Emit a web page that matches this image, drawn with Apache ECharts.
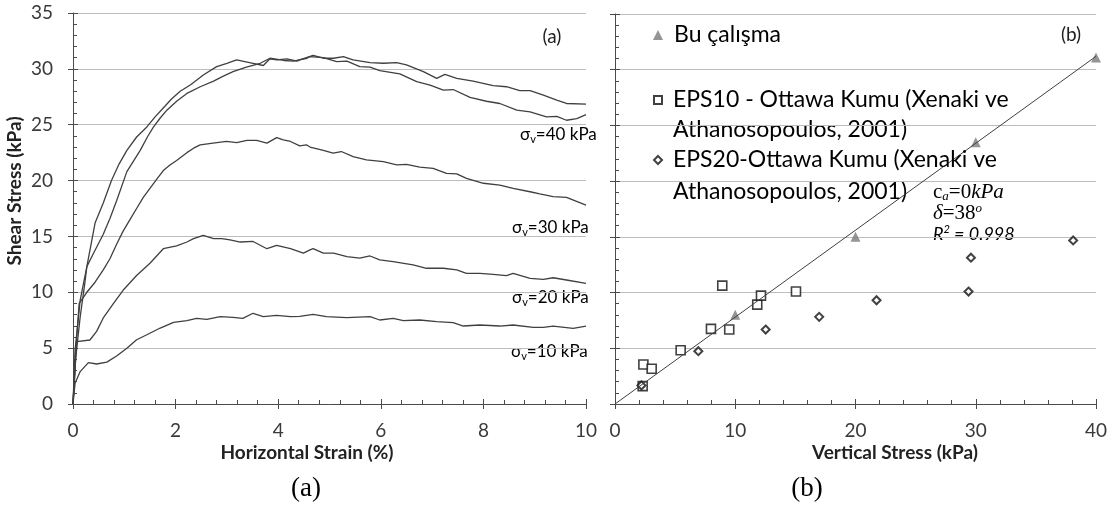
<!DOCTYPE html>
<html>
<head>
<meta charset="utf-8">
<script src="https://cdn.jsdelivr.net/npm/echarts/dist/echarts.min.js"></script>
<style>
  html, body { margin: 0; padding: 0; background: #ffffff; }
  #chart { width: 1114px; height: 511px; }
</style>
</head>
<body>
<div id="chart"></div>
<script>
// ---- (a) shear stress vs horizontal strain, one curve per normal stress ----
const curve10 = [[0,0],[0.04,1.85],[0.14,2.9],[0.3,3.7],[0.46,3.58],[0.66,3.75],[0.85,4.3],[1.05,5.0],[1.24,5.75],[1.44,6.2],[1.7,6.8],[1.96,7.3],[2.22,7.46],[2.41,7.67],[2.61,7.58],[2.87,7.82],[3.12,7.76],[3.31,7.67],[3.51,8.12],[3.71,7.82],[3.97,7.94],[4.24,7.82],[4.42,7.85],[4.68,8.03],[4.94,7.82],[5.34,7.73],[5.79,7.82],[5.98,7.52],[6.24,7.67],[6.44,7.46],[6.76,7.52],[7.09,7.37],[7.41,7.28],[7.61,6.98],[7.93,7.07],[8.32,6.98],[8.58,7.07],[8.97,6.86],[9.17,6.86],[9.36,6.98],[9.75,6.77],[10.0,6.98]];
const curve20 = [[0,0],[0.04,3.0],[0.07,5.58],[0.33,5.73],[0.46,6.5],[0.59,7.7],[0.79,9.0],[0.98,10.2],[1.24,11.5],[1.5,12.6],[1.76,13.9],[2.02,14.15],[2.22,14.5],[2.35,14.8],[2.54,15.1],[2.74,14.8],[2.9,14.8],[3.06,14.7],[3.26,14.5],[3.51,14.55],[3.78,13.9],[3.97,14.2],[4.24,13.9],[4.49,13.5],[4.62,13.8],[4.68,13.9],[4.88,13.5],[5.08,13.5],[5.34,13.2],[5.59,13.05],[5.79,13.25],[5.98,12.9],[6.24,12.75],[6.63,12.45],[6.89,12.15],[7.22,12.15],[7.48,12.0],[7.67,11.7],[7.93,11.7],[8.19,11.6],[8.45,11.5],[8.58,11.7],[8.91,11.25],[9.17,11.15],[9.36,11.3],[9.62,11.1],[10.0,10.8]];
const curve30 = [[0,0],[0.05,4.5],[0.12,9.0],[0.27,10.0],[0.43,10.9],[0.59,12.0],[0.72,13.0],[0.85,14.3],[0.98,15.5],[1.11,16.5],[1.24,17.5],[1.37,18.5],[1.5,19.3],[1.63,20.1],[1.76,20.9],[1.89,21.4],[2.02,21.8],[2.22,22.5],[2.35,22.9],[2.48,23.2],[2.73,23.35],[2.99,23.5],[3.19,23.4],[3.39,23.6],[3.58,23.6],[3.78,23.35],[3.97,23.85],[4.1,23.65],[4.24,23.5],[4.42,23.1],[4.55,23.2],[4.62,23.0],[4.88,22.7],[5.07,22.45],[5.23,22.6],[5.46,22.15],[5.72,21.85],[6.05,21.7],[6.31,21.4],[6.5,21.45],[6.76,21.2],[7.02,21.1],[7.28,20.65],[7.48,20.6],[7.67,20.2],[8.0,19.76],[8.32,19.6],[8.58,19.3],[8.91,19.0],[9.1,18.8],[9.36,18.56],[9.62,18.5],[10.0,17.8]];
const curve40a = [[0,0],[0.04,4.8],[0.14,9.3],[0.27,12.3],[0.43,16.2],[0.59,18.0],[0.75,20.0],[0.9,21.5],[1.05,22.7],[1.24,23.9],[1.44,24.8],[1.6,25.7],[1.76,26.5],[1.92,27.3],[2.09,28.0],[2.3,28.6],[2.54,29.45],[2.8,30.2],[3.0,30.5],[3.19,30.8],[3.35,30.65],[3.51,30.5],[3.71,30.3],[3.84,30.9],[3.97,30.8],[4.17,30.9],[4.37,30.7],[4.42,30.8],[4.68,31.2],[4.88,30.95],[5.08,30.95],[5.27,31.1],[5.46,30.8],[5.79,30.55],[6.05,30.5],[6.31,30.55],[6.5,30.35],[6.83,29.75],[7.09,29.15],[7.25,29.5],[7.48,29.15],[7.8,28.9],[8.19,28.5],[8.45,28.4],[8.71,28.05],[8.91,28.05],[9.17,27.65],[9.43,27.2],[9.62,26.9],[10.0,26.85]];
const curve40b = [[0,0],[0.05,4.0],[0.14,7.8],[0.23,10.8],[0.27,12.3],[0.4,13.5],[0.59,15.2],[0.72,16.6],[0.85,18.2],[1.05,20.8],[1.2,21.9],[1.31,22.7],[1.45,23.9],[1.57,24.8],[1.7,25.6],[1.83,26.3],[2.02,27.1],[2.22,27.8],[2.48,28.4],[2.74,28.9],[2.93,29.35],[3.12,29.75],[3.38,30.15],[3.65,30.5],[3.84,30.95],[4.11,30.75],[4.3,30.7],[4.56,30.95],[4.62,31.1],[4.88,31.0],[5.14,30.65],[5.34,30.7],[5.59,30.2],[5.79,30.15],[5.98,29.85],[6.37,29.55],[6.7,28.85],[6.96,28.55],[7.22,28.1],[7.41,28.15],[7.74,27.45],[8.06,27.1],[8.32,26.9],[8.65,26.3],[8.91,26.15],[9.23,25.7],[9.43,25.75],[9.62,25.4],[9.82,25.55],[10.0,25.9]];

// ---- (b) shear stress vs vertical stress ----
const buCalisma = [[10,8.0],[20,15.0],[30,23.5],[40,31.1]];
const eps10 = [[2.3,1.6],[2.36,3.55],[3.05,3.16],[5.46,4.83],[7.98,6.74],[9.5,6.68],[8.92,10.62],[11.83,8.92],[12.14,9.73],[15.05,10.09]];
const eps20 = [[2.2,1.67],[6.93,4.74],[12.53,6.68],[16.98,7.82],[21.75,9.31],[29.4,10.09],[29.6,13.13],[38.1,14.68]];
const fitLine = [[0,0],[40,31.2]];

// ---- text ----
const nameBu = 'Bu çalışma';
const lines10 = ['EPS10 - Ottawa Kumu (Xenaki ve', 'Athanosopoulos, 2001)'];
const lines20 = ['EPS20-Ottawa Kumu (Xenaki ve', 'Athanosopoulos, 2001)'];
const name10 = lines10.join(' ');
const name20 = lines20.join(' ');
const curveLabels = ['40', '30', '20', '10'];

const LINE = '#404040';
const GRID = '#bdbdbd';
const AXIS = '#4a4a4a';
const FONT = 'Lato';

function mainAxis(gridIndex, max, interval, showLabel) {
  return {
    type: 'value', gridIndex: gridIndex, min: 0, max: max, interval: interval,
    axisLine: { show: true, lineStyle: { color: AXIS, width: 1 } },
    axisTick: { show: true, inside: true, length: 5, lineStyle: { color: AXIS } },
    minorTick: { show: true, splitNumber: 5, length: 4, lineStyle: { color: AXIS } },
    axisLabel: { show: showLabel, margin: 17, fontFamily: FONT, fontSize: 19, color: '#3a3a3a' },
    splitLine: { show: false }
  };
}
function tickAxis(gridIndex, max, interval, position) {
  return {
    type: 'value', gridIndex: gridIndex, min: 0, max: max, interval: interval, position: position,
    axisLine: { show: false },
    axisTick: { show: true, inside: false, length: 5, lineStyle: { color: AXIS } },
    axisLabel: { show: false },
    splitLine: { show: false }
  };
}

const yLeft = mainAxis(0, 35, 5, true);
yLeft.axisLabel.margin = 20;
yLeft.splitLine = { show: true, lineStyle: { color: GRID, width: 1 } };
const yRight = mainAxis(1, 35, 5, false);
yRight.splitLine = { show: true, lineStyle: { color: GRID, width: 1 } };

function curveSeries(data) {
  return {
    type: 'line', xAxisIndex: 0, yAxisIndex: 0, data: data, symbol: 'none',
    lineStyle: { color: LINE, width: 1.3 }, silent: true, animation: false
  };
}

function sigmaLabel(value, x, y) {
  return {
    type: 'text', x: x, y: y,
    style: {
      text: '{s|σ}{v|v}{t|=' + value + ' kPa}',
      align: 'left',
      verticalAlign: 'middle',
      rich: {
        s: { fontFamily: FONT, fontSize: 17, color: '#222', lineHeight: 20 },
        v: { fontFamily: FONT, fontSize: 11, color: '#222', lineHeight: 12, verticalAlign: 'bottom' },
        t: { fontFamily: FONT, fontSize: 17, color: '#222', lineHeight: 20 }
      }
    }
  };
}

const legendBase = {
  orient: 'vertical', left: 653, padding: 0, selectedMode: false,
  itemWidth: 9, itemHeight: 9,
  textStyle: { fontFamily: FONT, fontSize: 23, color: '#000', lineHeight: 26, padding: [0, 0, 0, 6] }
};

const serifRich = {
  u: { fontFamily: 'Liberation Serif', fontSize: 21, color: '#222', lineHeight: 22 },
  i: { fontFamily: 'Liberation Serif', fontStyle: 'italic', fontSize: 21, color: '#222', lineHeight: 22 },
  sp: { fontFamily: 'Liberation Serif', fontSize: 21, color: '#222', lineHeight: 22 },
  sub: { fontFamily: 'Liberation Serif', fontStyle: 'italic', fontSize: 13, color: '#222', lineHeight: 13, verticalAlign: 'bottom' },
  sup: { fontFamily: 'Liberation Serif', fontStyle: 'italic', fontSize: 13, color: '#222', lineHeight: 13, verticalAlign: 'top' }
};

const option = {
  backgroundColor: '#ffffff',
  animation: false,
  grid: [
    { left: 73, top: 13, width: 513, height: 391 },
    { left: 615, top: 14, width: 481, height: 390 }
  ],
  xAxis: [
    mainAxis(0, 10, 2, true),
    mainAxis(1, 40, 10, true),
    tickAxis(0, 10, 2, 'bottom'),
    tickAxis(1, 40, 10, 'bottom')
  ],
  yAxis: [
    yLeft,
    yRight,
    tickAxis(0, 35, 5, 'left'),
    tickAxis(1, 35, 5, 'left')
  ],
  legend: [
    Object.assign({}, legendBase, { top: 22, data: [nameBu], itemWidth: 10, itemHeight: 10 }),
    Object.assign({}, legendBase, { top: 87, data: [name10], itemWidth: 8, itemHeight: 8,
      formatter: function () { return lines10[0]; } }),
    Object.assign({}, legendBase, { top: 147, data: [name20], itemWidth: 8, itemHeight: 8,
      formatter: function () { return lines20[0]; } })
  ],
  series: [
    curveSeries(curve10),
    curveSeries(curve20),
    curveSeries(curve30),
    curveSeries(curve40a),
    curveSeries(curve40b),
    {
      name: nameBu, type: 'scatter', xAxisIndex: 1, yAxisIndex: 1, data: buCalisma,
      symbol: 'triangle', symbolSize: 10,
      itemStyle: { color: '#7a7a7a' }
    },
    {
      name: name10, type: 'scatter', xAxisIndex: 1, yAxisIndex: 1, data: eps10,
      symbol: 'rect', symbolSize: 9,
      itemStyle: { color: '#ffffff', borderColor: '#111', borderWidth: 1.6 }
    },
    {
      name: name20, type: 'scatter', xAxisIndex: 1, yAxisIndex: 1, data: eps20,
      symbol: 'diamond', symbolSize: 8,
      itemStyle: { color: '#ffffff', borderColor: '#111', borderWidth: 2 }
    },
    {
      type: 'line', xAxisIndex: 1, yAxisIndex: 1, data: fitLine, symbol: 'none',
      lineStyle: { color: LINE, width: 1 }, silent: true, z: 3
    }
  ],
  graphic: [
    { type: 'text', x: 15, y: 191, rotation: Math.PI / 2,
      style: { text: 'Shear Stress (kPa)', align: 'center', verticalAlign: 'middle',
        font: 'bold 19px Lato', fill: '#222' } },
    { type: 'text', x: 307, y: 453,
      style: { text: 'Horizontal Strain (%)', align: 'center', verticalAlign: 'middle',
        font: 'bold 19px Lato', fill: '#222' } },
    { type: 'text', x: 895, y: 453,
      style: { text: 'Vertical Stress (kPa)', align: 'center', verticalAlign: 'middle',
        font: 'bold 19px Lato', fill: '#222' } },
    { type: 'text', x: 306, y: 489,
      style: { text: '(a)', align: 'center', verticalAlign: 'middle',
        font: '27px "Liberation Serif"', fill: '#000' } },
    { type: 'text', x: 807, y: 489,
      style: { text: '(b)', align: 'center', verticalAlign: 'middle',
        font: '27px "Liberation Serif"', fill: '#000' } },
    { type: 'text', x: 552, y: 37,
      style: { text: '(a)', align: 'center', verticalAlign: 'middle',
        font: '19px Lato', fill: '#222' } },
    { type: 'text', x: 1071, y: 35,
      style: { text: '(b)', align: 'center', verticalAlign: 'middle',
        font: '19px Lato', fill: '#222' } },
    sigmaLabel(curveLabels[0], 520, 135),
    sigmaLabel(curveLabels[1], 512, 228),
    sigmaLabel(curveLabels[2], 512, 298),
    sigmaLabel(curveLabels[3], 511, 352),
    { type: 'text', x: 673, y: 130,
      style: { text: lines10[1], verticalAlign: 'middle', font: '23px Lato', fill: '#000' } },
    { type: 'text', x: 673, y: 192,
      style: { text: lines20[1], verticalAlign: 'middle', font: '23px Lato', fill: '#000' } },
    { type: 'text', x: 933, y: 192,
      style: { text: '{u|c}{sub|a}{u|=0}{i|kPa}', align: 'left', verticalAlign: 'middle', rich: serifRich } },
    { type: 'text', x: 933, y: 213,
      style: { text: '{i|δ}{u|=38}{sup|o}', align: 'left', verticalAlign: 'middle', rich: serifRich } },
    { type: 'text', x: 933, y: 234,
      style: {
        text: '{i|R}{sup|2}{i| = 0.998}', align: 'left', verticalAlign: 'middle',
        rich: {
          i: { fontFamily: FONT, fontStyle: 'italic', fontSize: 18, color: '#222', lineHeight: 20 },
          sup: { fontFamily: FONT, fontStyle: 'italic', fontSize: 11, color: '#222', lineHeight: 12, verticalAlign: 'top' }
        }
      } }
  ]
};

const chart = echarts.init(document.getElementById('chart'), null, { renderer: 'canvas' });
chart.setOption(option);
</script>
</body>
</html>
